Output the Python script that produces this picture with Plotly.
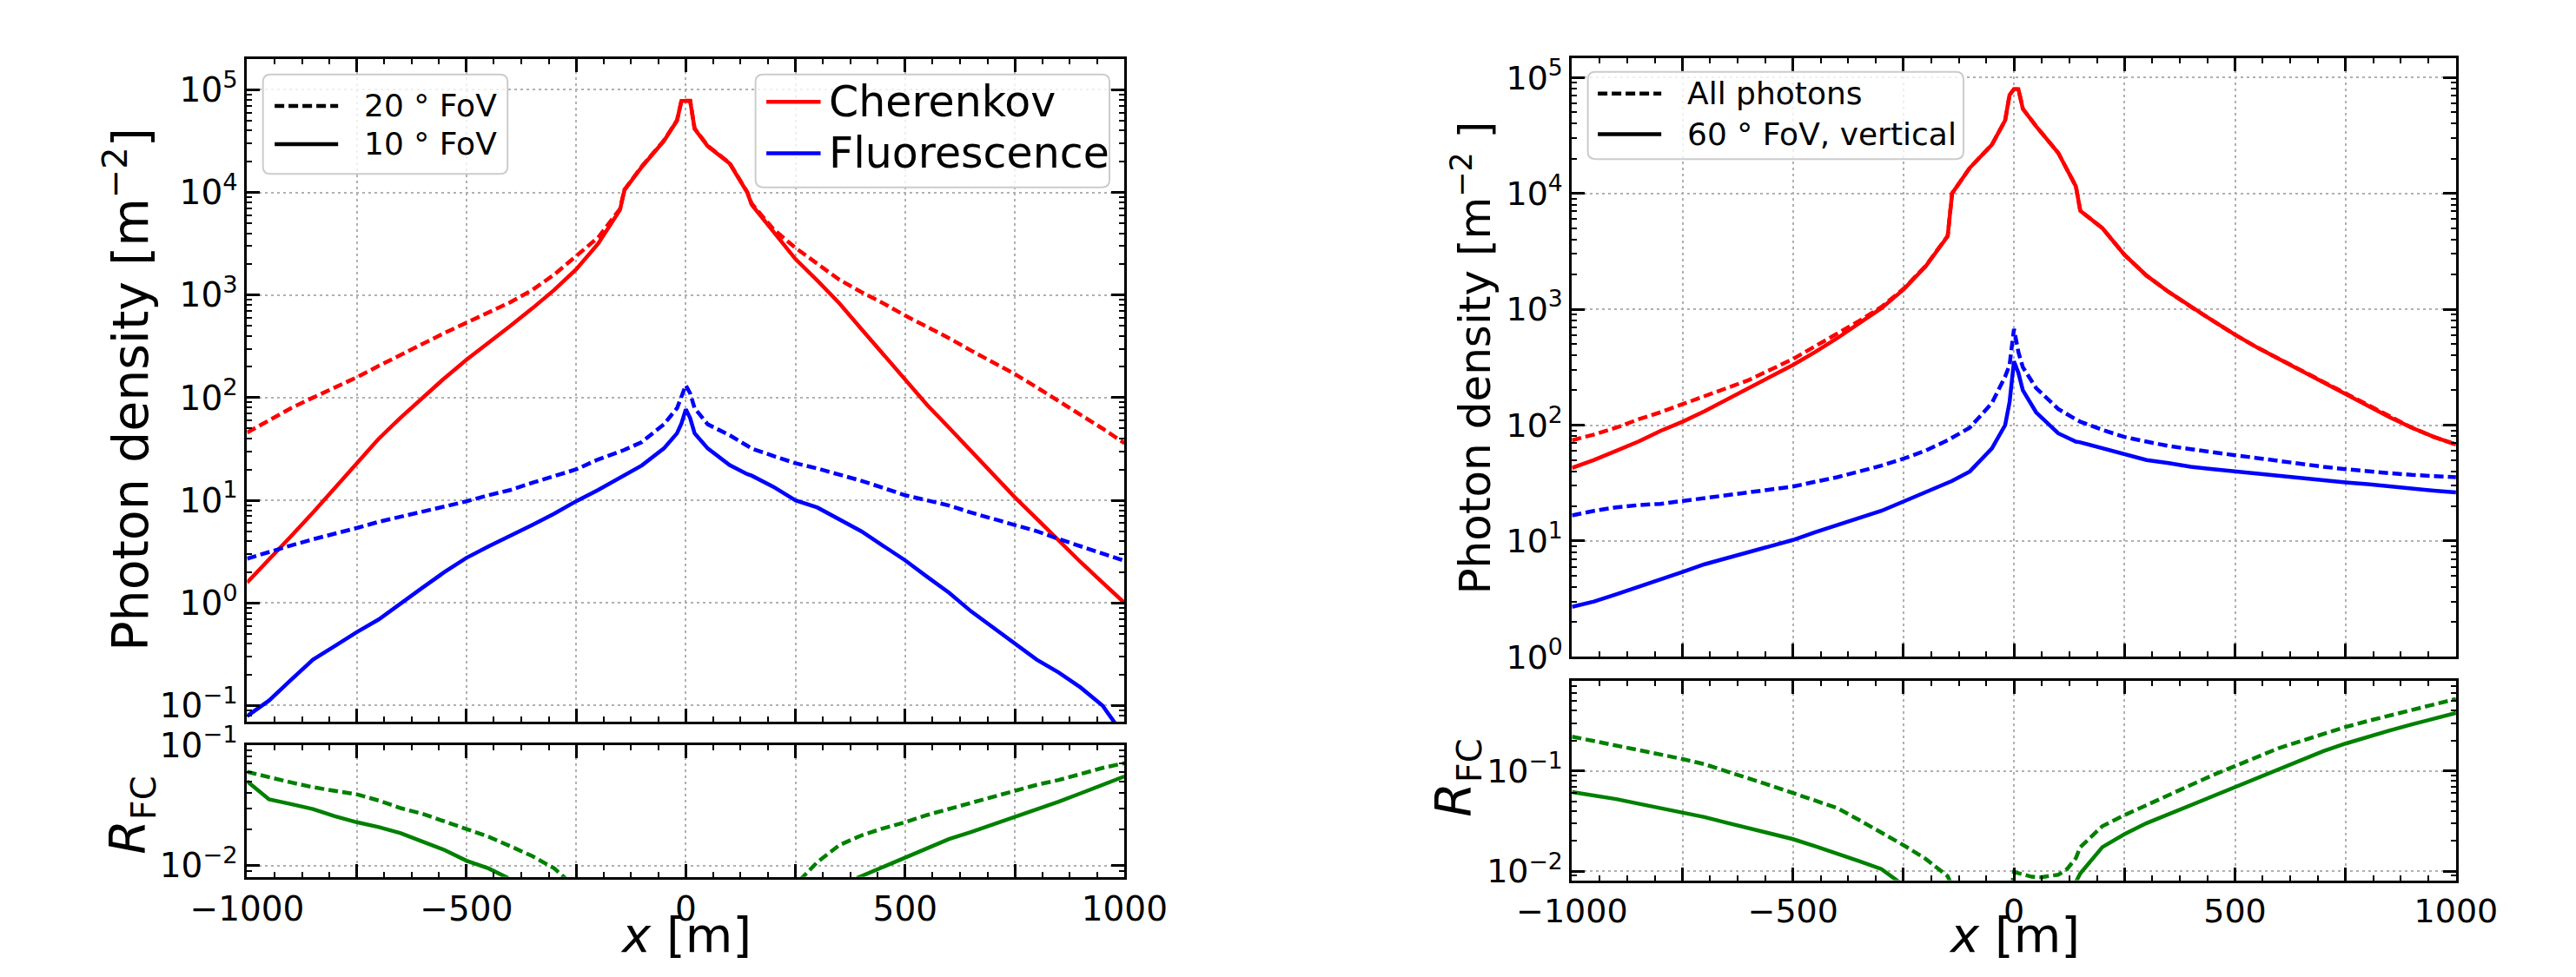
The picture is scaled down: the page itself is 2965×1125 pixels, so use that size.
import plotly.graph_objects as go

# ---------------- data ----------------
X_POS = [-1000, -950, -900, -850, -800, -750, -700, -650, -600, -550, -500, -450, -400,
         -350, -300, -250, -200, -150, -140, -100, -50, -20, -10, 0, 10, 20, 50, 100, 140,
         150, 200, 250, 300, 350, 400, 450, 500, 550, 600, 650, 700, 750, 800, 850, 900,
         950, 1000]

# Left figure: 10 deg FoV (solid) and 20 deg FoV (dashed)
cher_10 = [1.58, 2.63, 4.47, 7.59, 13.2, 22.4, 39.8, 64, 100, 155, 234, 347, 501,
           741, 1120, 1780, 3160, 6760, 10500, 17800, 31600, 50100, 77600, 77600, 77600, 41700, 28200, 19100, 10000,
           7600, 4170, 2240, 1380, 832, 468, 263, 151, 85, 51, 30, 17.8, 10.7, 6.6, 4.0, 2.5,
           1.58, 1.0]
cher_20 = [45.7, 60, 79, 100, 126, 158, 204, 263, 339, 427, 537, 676, 851,
           1120, 1580, 2400, 3630, 6900, 10600, 18000, 32000, 50500, 78000, 78000, 78000, 42000, 28500, 19300, 10100,
           7800, 4370, 2880, 2000, 1410, 1070, 832, 631, 490, 380, 288, 219, 170, 126, 93, 69,
           50, 36]
fluo_10 = [0.079, 0.112, 0.178, 0.28, 0.38, 0.52, 0.69, 1.0, 1.41, 2.0, 2.75, 3.55, 4.47,
           5.75, 7.4, 9.8, 12.6, 16.6, 17.5, 21.9, 32, 45, 56, 77, 63, 45, 32, 22, 18,
           17.4, 13.5, 10, 8.5, 6.6, 5.0, 3.6, 2.6, 1.8, 1.26, 0.83, 0.575, 0.4, 0.28, 0.21, 0.15,
           0.1, 0.05]
fluo_20 = [2.7, 3.16, 3.63, 4.17, 4.68, 5.37, 6.17, 6.92, 7.76, 8.71, 9.77, 11.2, 12.6,
           14.8, 17.4, 20, 25, 30, 31, 37, 55, 79, 105, 132, 110, 79, 55, 43, 34,
           32, 27, 23, 20.4, 17.8, 15.5, 13.2, 11.2, 10, 8.9, 7.6, 6.6, 5.75, 5.0, 4.2, 3.55,
           3.0, 2.57]

# Right figure: all photons (dashed) and 60 deg FoV vertical (solid)
cher_all = [74, 83, 95, 112, 129, 151, 178, 209, 245, 302, 372, 479, 617,
            794, 1047, 1500, 2360, 4300, 10000, 16600, 26300, 42700, 70800, 79400, 79400, 53700, 38000, 22400, 11500,
            7080, 5010, 2950, 1950, 1410, 1050, 794, 603, 468, 372, 295, 234, 186, 148, 117, 95,
            79, 68]
cher_60 = [42.7, 50, 60, 72, 89, 107, 132, 166, 209, 263, 331, 427, 562,
           759, 1020, 1480, 2340, 4270, 10000, 16600, 26300, 42700, 70800, 79400, 79400, 53700, 38000, 22400, 11500,
           7080, 5010, 2950, 1950, 1410, 1050, 794, 603, 468, 372, 295, 234, 186, 148, 117, 95,
           79, 68]
fluo_all = [16.6, 18.2, 19.5, 20.4, 20.9, 22.1, 23.4, 24.8, 26.3, 27.9, 29.5, 32.4, 35.5,
            39.8, 44.7, 51.3, 60.3, 74, 78, 95, 155, 263, 331, 676, 427, 316, 209, 138, 112,
            107, 91, 79, 72, 66, 62, 58, 55, 52, 49, 46, 43.7, 41.7, 39.8, 38.5, 37.2,
            36.3, 35.5]
fluo_60 = [2.7, 3.0, 3.47, 4.0, 4.68, 5.4, 6.3, 7.1, 7.9, 9.0, 10.2, 11.9, 13.8,
           15.8, 18.2, 21.9, 26.3, 31.6, 33, 39.8, 63, 100, 158, 355, 282, 200, 129, 85, 72,
           71, 63, 56, 50, 47, 43.7, 41.7, 39.8, 38, 36.3, 34.7, 33.1, 32, 30.9, 29.5, 28.2,
           27.2, 26.3]

# Ratio R_FC, left figure
rl20_x = [-1000, -950, -900, -850, -800, -750, -700, -650, -600, -550, -500, -450, -400, -350, -300, -270,
          None,
          260, 300, 350, 400, 450, 500, 550, 600, 650, 700, 750, 800, 850, 900, 950, 1000]
rl20_y = [0.060, 0.054, 0.049, 0.0447, 0.0417, 0.039, 0.0347, 0.030, 0.0269, 0.0234, 0.0204, 0.0174, 0.0145, 0.012, 0.0095, 0.0076,
          None,
          0.0076, 0.0107, 0.0148, 0.0178, 0.0204, 0.0229, 0.0263, 0.0295, 0.0331, 0.0372, 0.0417, 0.0468, 0.0513, 0.0575, 0.0646, 0.0708]
rl10_x = [-1000, -950, -900, -850, -800, -750, -700, -650, -600, -550, -500, -450, -405,
          None,
          390, 450, 500, 550, 600, 650, 700, 750, 800, 850, 900, 950, 1000]
rl10_y = [0.050, 0.0355, 0.0324, 0.0295, 0.0257, 0.0229, 0.0209, 0.0186, 0.0158, 0.0135, 0.011, 0.0095, 0.0079,
          None,
          0.0079, 0.0098, 0.0117, 0.0138, 0.0166, 0.019, 0.0219, 0.0251, 0.0295, 0.0339, 0.0398, 0.0468, 0.055]

# Ratio R_FC, right figure
rrall_x = [-1000, -950, -900, -850, -800, -750, -700, -650, -600, -550, -500, -450, -400, -350, -300, -250, -200, -150, -140,
           None,
           -10, 0, 20, 40, 60, 80, 100, 120, 140, 150, 200, 250, 300, 350, 400, 450, 500, 550, 600, 650, 700,
           750, 800, 850, 900, 950, 1000]
rrall_y = [0.221, 0.2, 0.182, 0.164, 0.148, 0.132, 0.117, 0.1, 0.085, 0.0716, 0.0603, 0.0507, 0.0427, 0.0324, 0.0245, 0.0182, 0.0133, 0.0089, 0.0071,
           None,
           0.005, 0.0098, 0.0093, 0.0088, 0.0087, 0.0089, 0.0092, 0.0105, 0.0135, 0.0174, 0.0282, 0.0363, 0.0457, 0.0582, 0.0741, 0.0912, 0.112, 0.138, 0.17, 0.2, 0.237,
           0.275, 0.316, 0.359, 0.407, 0.462, 0.525]
rr60_x = [-1000, -950, -900, -850, -800, -750, -700, -650, -600, -550, -500, -450, -400, -350, -300, -260,
          None,
          140, 150, 200, 250, 300, 350, 400, 450, 500, 550, 600, 650, 700, 750, 800, 850, 900, 950, 1000]
rr60_y = [0.0617, 0.0569, 0.0525, 0.0473, 0.0427, 0.0385, 0.0347, 0.0305, 0.0269, 0.0237, 0.0209, 0.0178, 0.0151, 0.0126, 0.0105, 0.0078,
          None,
          0.0078, 0.0095, 0.0174, 0.0234, 0.0302, 0.0372, 0.0457, 0.0562, 0.0692, 0.085, 0.105, 0.129, 0.158, 0.188, 0.221, 0.254, 0.292, 0.335, 0.38]

# ---------------- layout helpers ----------------
W, H = 2965, 1125
FONT = "DejaVu Sans"
RED, BLUE, GREEN = "#ff0000", "#0000ff", "#008000"
DASH = "11px,5px"
LW = 4.5


def PX(x):
    return x / W


def PY(y):
    return 1 - y / H


def xaxis(domain, anchor, labels, size):
    return dict(
        domain=domain, anchor=anchor, range=[-1000, 1000],
        tickmode="linear", tick0=-1000, dtick=250, ticklabelstep=2,
        showticklabels=labels,
        ticks="inside", ticklen=15, tickwidth=2.5, tickcolor="black",
        showline=True, linewidth=3, linecolor="black", mirror="ticks",
        showgrid=True, gridcolor="#b0b0b0", gridwidth=2, griddash="3px,4px",
        zeroline=False,
        minor=dict(ticks="inside", ticklen=6, tickwidth=2, tickcolor="black",
                   tickmode="linear", tick0=-1000, dtick=62.5, showgrid=False),
        tickfont=dict(family=FONT, size=size, color="black"),
    )


def yaxis(domain, anchor, rng, size):
    exps = [e for e in range(-3, 7) if rng[0] - 1e-6 <= e <= rng[1] + 1e-6]
    vals = [10.0 ** e for e in exps]
    txt = ["10<sup>%s</sup>" % (("\u2212%d" % -e) if e < 0 else "%d" % e) for e in exps]
    minors = [m * 10.0 ** e for e in range(-3, 6) for m in range(2, 10)]
    return dict(
        domain=domain, anchor=anchor, type="log", range=rng,
        tickmode="array", tickvals=vals, ticktext=txt,
        ticks="inside", ticklen=15, tickwidth=2.5, tickcolor="black",
        showline=True, linewidth=3, linecolor="black", mirror="ticks",
        showgrid=True, gridcolor="#b0b0b0", gridwidth=2, griddash="3px,4px",
        zeroline=False,
        minor=dict(ticks="inside", ticklen=6, tickwidth=2, tickcolor="black",
                   tickmode="array", tickvals=minors, showgrid=False),
        tickfont=dict(family=FONT, size=size, color="black"),
    )


fig = go.Figure()


def add(x, y, color, dash, xa, ya):
    fig.add_trace(go.Scatter(
        x=x, y=y, mode="lines", showlegend=False, connectgaps=False,
        line=dict(color=color, width=LW, dash=dash),
        xaxis=xa, yaxis=ya, hoverinfo="skip"))


# left figure
add(X_POS, cher_20, RED, DASH, "x", "y")
add(X_POS, cher_10, RED, "solid", "x", "y")
add(X_POS, fluo_20, BLUE, DASH, "x", "y")
add(X_POS, fluo_10, BLUE, "solid", "x", "y")
add(rl20_x, rl20_y, GREEN, DASH, "x2", "y2")
add(rl10_x, rl10_y, GREEN, "solid", "x2", "y2")
# right figure
add(X_POS, cher_all, RED, DASH, "x3", "y3")
add(X_POS, cher_60, RED, "solid", "x3", "y3")
add(X_POS, fluo_all, BLUE, DASH, "x3", "y3")
add(X_POS, fluo_60, BLUE, "solid", "x3", "y3")
add(rrall_x, rrall_y, GREEN, DASH, "x4", "y4")
add(rr60_x, rr60_y, GREEN, "solid", "x4", "y4")

LX = [PX(219), PX(1270)]
RX = [PX(1806), PX(2865)]

fig.update_layout(
    width=W, height=H, margin=dict(l=0, r=0, t=0, b=0),
    paper_bgcolor="white", plot_bgcolor="white",
    font=dict(family=FONT, color="black"),
    xaxis=xaxis(LX, "y", False, 39),
    yaxis=yaxis([PY(832), PY(33)], "x", [-1.157, 5.303], 39),
    xaxis2=xaxis(LX, "y2", True, 39),
    yaxis2=yaxis([PY(1019), PY(860)], "x2", [-2.093, -0.999], 39),
    xaxis3=xaxis(RX, "y3", False, 38),
    yaxis3=yaxis([PY(754), PY(32)], "x3", [-0.001, 5.17], 38),
    xaxis4=xaxis(RX, "y4", True, 38),
    yaxis4=yaxis([PY(1023), PY(783)], "x4", [-2.09, -0.101], 38),
)


# ---------------- axis titles ----------------
def note(text, x, y, size, angle=0, xanchor="center", yanchor="middle"):
    fig.add_annotation(text=text, x=PX(x), y=PY(y), xref="paper", yref="paper",
                       showarrow=False, textangle=angle, xanchor=xanchor, yanchor=yanchor,
                       font=dict(family=FONT, size=size, color="black"))


note("Photon density [m<sup>\u22122</sup>]", 75, 432, 57, -90)
note("<i>R</i><sub>FC</sub>", 80, 945, 57, -90)
note("<i>x</i> [m]", 745, 1125, 56, yanchor="bottom")
note("Photon density [m<sup>\u22122</sup> ]", 1687, 393, 50, -90)
note("<i>R</i><sub>FC</sub>", 1668, 900, 57, -90)
note("<i>x</i> [m]", 2336, 1125, 56, yanchor="bottom")


# ---------------- legends (drawn as boxes, sample lines and text) ----------------
def rbox(x0, y0, x1, y1, r=9):
    p = ("M {a},{b} L {c},{b} Q {d},{b} {d},{e} L {d},{f} Q {d},{g} {c},{g} "
         "L {a},{g} Q {h},{g} {h},{f} L {h},{e} Q {h},{b} {a},{b} Z").format(
        a=PX(x0 + r), b=PY(y0), c=PX(x1 - r), d=PX(x1), e=PY(y0 + r),
        f=PY(y1 - r), g=PY(y1), h=PX(x0))
    fig.add_shape(type="path", path=p, xref="paper", yref="paper", layer="above",
                  fillcolor="rgba(255,255,255,0.8)", line=dict(color="#cccccc", width=2))


def sample(x0, x1, y, color, dash):
    fig.add_shape(type="line", x0=PX(x0), x1=PX(x1), y0=PY(y), y1=PY(y),
                  xref="paper", yref="paper", layer="above",
                  line=dict(color=color, width=LW, dash=dash))


# left: line styles
rbox(238, 52, 531, 172)
sample(252, 328, 90, "black", DASH)
sample(252, 328, 136, "black", "solid")
note("20 \u00b0 FoV", 357, 90, 36, xanchor="left")
note("10 \u00b0 FoV", 357, 136, 36, xanchor="left")
# left: colours
rbox(828, 52, 1252, 188)
sample(841, 906, 85, RED, "solid")
sample(841, 906, 147, BLUE, "solid")
note("Cherenkov", 914, 85, 49, xanchor="left")
note("Fluorescence", 914, 147, 49, xanchor="left")
# right: line styles
rbox(1825, 49, 2275, 154)
sample(1837, 1913, 75, "black", DASH)
sample(1837, 1913, 124, "black", "solid")
note("All photons", 1942, 75, 36, xanchor="left")
note("60 \u00b0 FoV, vertical", 1942, 124, 36, xanchor="left")

fig.write_html("out.html")
